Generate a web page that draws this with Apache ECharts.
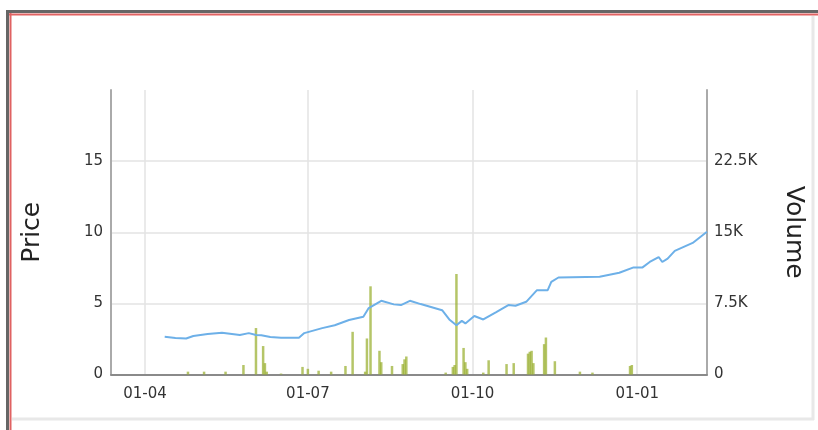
<!DOCTYPE html>
<html>
<head>
<meta charset="utf-8">
<style>
html,body{margin:0;padding:0;background:#fff;}
#chart{width:818px;height:430px;}
</style>
<script src="https://cdn.jsdelivr.net/npm/echarts@6/dist/echarts.min.js"></script>
</head>
<body>
<div id="chart"></div>
<script>
const priceDates = ['2017-04-12','2017-04-18','2017-04-24','2017-04-28','2017-05-06','2017-05-14','2017-05-24','2017-05-29','2017-06-02','2017-06-05','2017-06-10','2017-06-16','2017-06-26','2017-06-29','2017-07-09','2017-07-16','2017-07-24','2017-08-01','2017-08-04','2017-08-11','2017-08-18','2017-08-22','2017-08-27','2017-09-02','2017-09-14','2017-09-18','2017-09-22','2017-09-25','2017-09-27','2017-10-02','2017-10-07','2017-10-14','2017-10-21','2017-10-25','2017-10-31','2017-11-06','2017-11-12','2017-11-14','2017-11-18','2017-12-11','2017-12-22','2017-12-30','2018-01-04','2018-01-08','2018-01-13','2018-01-15','2018-01-18','2018-01-22','2018-02-01','2018-02-09'];
const priceValues = [2.65,2.57,2.53,2.71,2.84,2.94,2.78,2.91,2.78,2.76,2.63,2.58,2.58,2.91,3.26,3.46,3.83,4.06,4.67,5.18,4.93,4.88,5.18,4.95,4.52,3.87,3.46,3.77,3.59,4.11,3.87,4.37,4.88,4.83,5.11,5.93,5.93,6.51,6.82,6.87,7.15,7.53,7.53,7.91,8.26,7.91,8.15,8.69,9.25,10.03];
const volumeDates = ['2017-04-25','2017-05-04','2017-05-16','2017-05-26','2017-06-02','2017-06-06','2017-06-07','2017-06-08','2017-06-16','2017-06-28','2017-07-01','2017-07-07','2017-07-14','2017-07-22','2017-07-26','2017-08-02','2017-08-03','2017-08-05','2017-08-10','2017-08-11','2017-08-17','2017-08-23','2017-08-24','2017-08-25','2017-09-16','2017-09-20','2017-09-21','2017-09-22','2017-09-26','2017-09-27','2017-09-28','2017-10-07','2017-10-10','2017-10-20','2017-10-24','2017-11-01','2017-11-02','2017-11-03','2017-11-04','2017-11-10','2017-11-11','2017-11-16','2017-11-30','2017-12-07','2017-12-28','2017-12-29'];
const volumeValues = [300,300,300,1000,4900,3000,1200,300,100,800,600,400,300,900,4500,300,3800,9300,2500,1300,900,1100,1600,1900,200,800,1000,10600,2800,1300,600,200,1500,1100,1200,2200,2400,2500,1200,3200,3900,1400,300,200,900,1000];
const xTickDates = ['2017-04-01','2017-07-01','2017-10-01','2018-01-01'];
const priceTicks = [0,5,10,15];
const volumeTicks = [0,7500,15000,22500];

const ts = s => new Date(s + 'T00:00:00Z').getTime();
const font = 'DejaVu Sans';
const chart = echarts.init(document.getElementById('chart'), null, {renderer:'canvas'});
const tickTs = xTickDates.map(ts);
chart.setOption({
  animation:false,
  backgroundColor:'#fff',
  textStyle:{fontFamily:font},
  grid:{left:111, right:111, top:90, bottom:55.5, containLabel:false},
  xAxis:{
    type:'value',
    min: ts('2017-03-13'),
    max: ts('2018-02-09'),
    axisLine:{show:true, lineStyle:{color:'#8a8a8a', width:2}},
    axisTick:{show:false, customValues: tickTs},
    axisLabel:{customValues: tickTs, color:'#333', fontSize:15, fontFamily:font, margin:12,
      formatter: v => { const d=new Date(v); return String(d.getUTCDate()).padStart(2,'0')+'-'+String(d.getUTCMonth()+1).padStart(2,'0'); }},
    splitLine:{show:true, lineStyle:{color:'#e3e3e3', width:1.5}}
  },
  yAxis:[{
    type:'value', min:0, max:20, interval:5,
    name:'Price', nameLocation:'middle', nameGap:66,
    nameTextStyle:{fontSize:25, color:'#222', fontFamily:font},
    axisLine:{show:true, lineStyle:{color:'#aaa', width:2}},
    axisTick:{show:false},
    axisLabel:{showMaxLabel:false, color:'#333', fontSize:15, fontFamily:font, margin:8, padding:[8,0,0,0]},
    splitLine:{show:true, showMaxLine:false, lineStyle:{color:'#e3e3e3', width:1.5}}
  },{
    type:'value', min:0, max:30000, interval:7500, position:'right',
    name:'Volume', nameLocation:'middle', nameGap:74, nameRotate:-90,
    nameTextStyle:{fontSize:25, color:'#222', fontFamily:font},
    axisLine:{show:true, lineStyle:{color:'#aaa', width:2}},
    axisTick:{show:false},
    axisLabel:{showMaxLabel:false, color:'#333', fontSize:15, fontFamily:font, margin:7, padding:[8,0,0,0],
      formatter: v => v === 0 ? '0' : (v/1000) + 'K'},
    splitLine:{show:false}
  }],
  series:[{
    type:'bar', yAxisIndex:1, barWidth:2.5,
    itemStyle:{color:'rgba(150,172,40,0.7)'},
    data: volumeDates.map((d,i)=>[ts(d), volumeValues[i]])
  },{
    type:'line', yAxisIndex:0, showSymbol:false, symbol:'none',
    lineStyle:{color:'#6db0e8', width:2},
    data: priceDates.map((d,i)=>[ts(d), priceValues[i]])
  }],
  graphic:[
    {type:'line', shape:{x1:6,y1:11.5,x2:818,y2:11.5}, style:{stroke:'#666', lineWidth:3}, silent:true},
    {type:'line', shape:{x1:9,y1:14.5,x2:818,y2:14.5}, style:{stroke:'#e06262', lineWidth:2}, silent:true},
    {type:'line', shape:{x1:7.5,y1:10,x2:7.5,y2:430}, style:{stroke:'#666', lineWidth:3}, silent:true},
    {type:'line', shape:{x1:10.5,y1:13,x2:10.5,y2:430}, style:{stroke:'#e06262', lineWidth:2}, silent:true},
    {type:'line', shape:{x1:813,y1:16,x2:813,y2:420}, style:{stroke:'#e8e8e8', lineWidth:3}, silent:true},
    {type:'line', shape:{x1:12,y1:419,x2:814,y2:419}, style:{stroke:'#e8e8e8', lineWidth:3}, silent:true}
  ]
});
</script>
</body>
</html>
